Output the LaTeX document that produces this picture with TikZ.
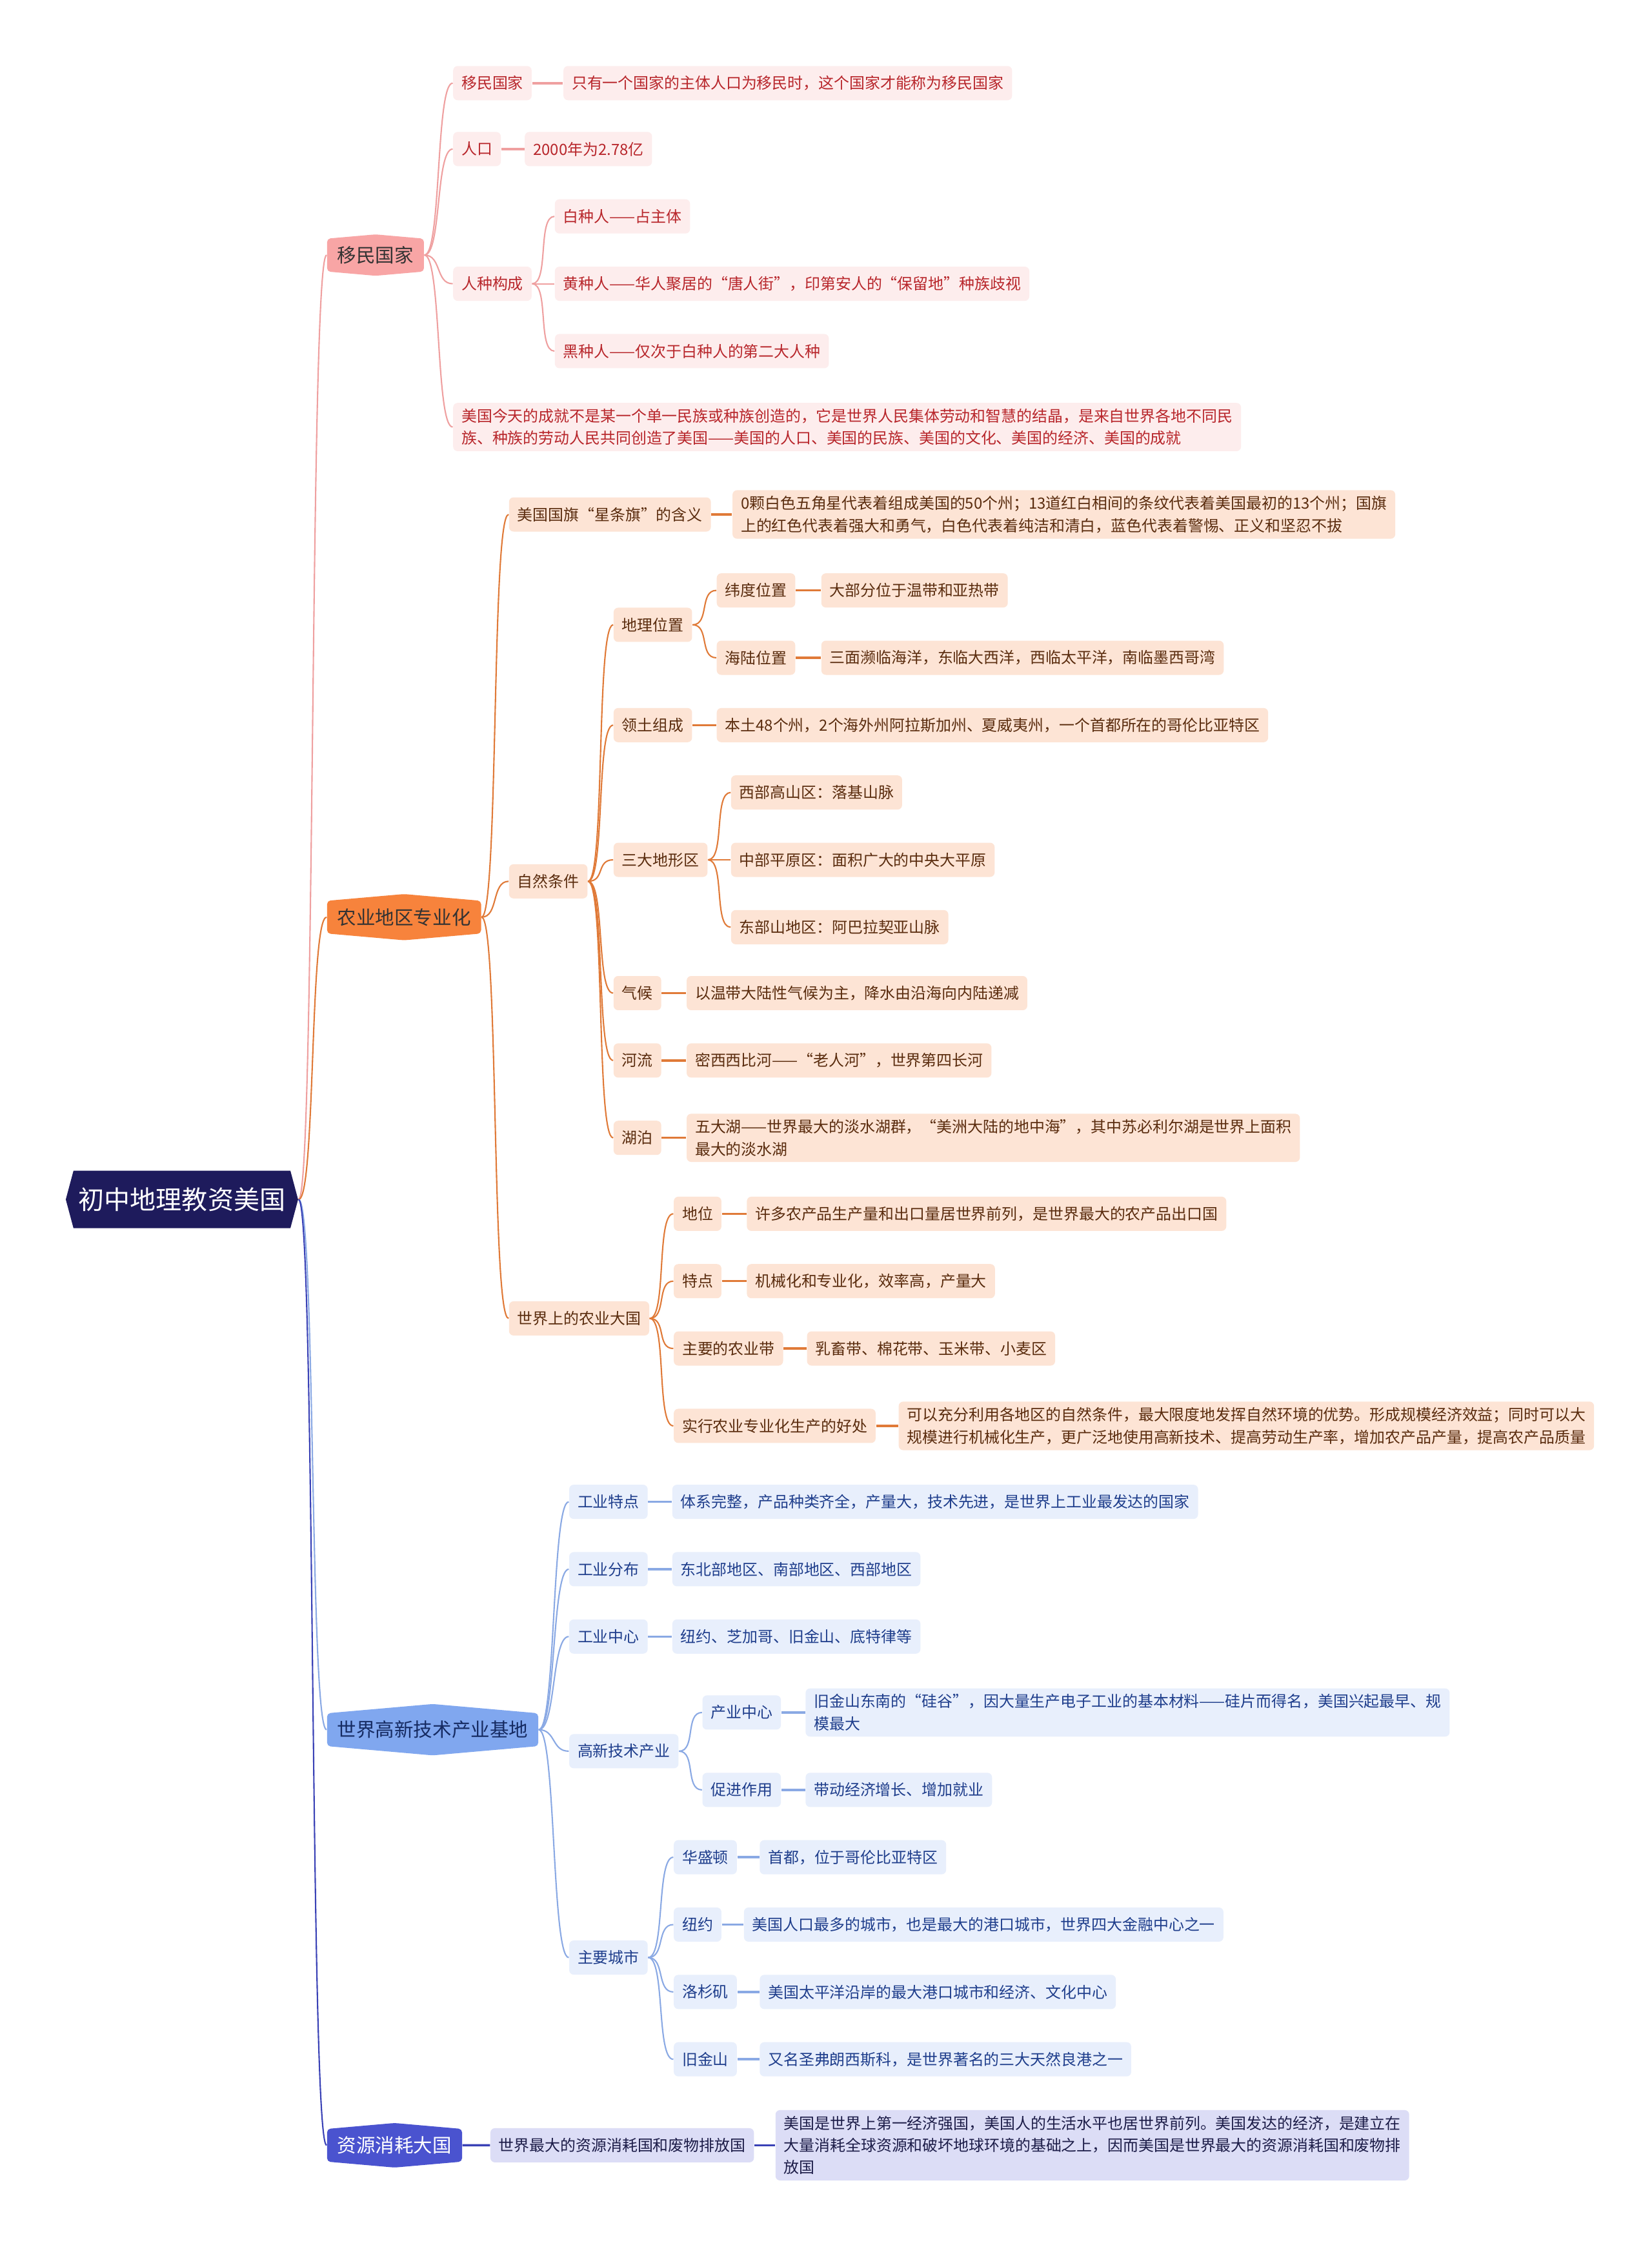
\documentclass[tikz,border=0pt]{standalone}
\usepackage{fontspec}
\setmainfont{Noto Sans CJK SC}
\usetikzlibrary{shapes.symbols}
\definecolor{rootbg}{HTML}{1E1B5C}
\definecolor{pinktop}{HTML}{F8A5A5}
\definecolor{pinkbg}{HTML}{FDEDED}
\definecolor{pinktx}{HTML}{B8262B}
\definecolor{pinkln}{HTML}{EFA0A0}
\definecolor{orangetop}{HTML}{F7833C}
\definecolor{orangebg}{HTML}{FDE4D5}
\definecolor{orangetx}{HTML}{5A2C0E}
\definecolor{orangeln}{HTML}{E07A38}
\definecolor{bluetop}{HTML}{80A7EF}
\definecolor{bluebg}{HTML}{E8EFFC}
\definecolor{bluetx}{HTML}{1F3E8C}
\definecolor{blueln}{HTML}{8AA9E4}
\definecolor{purpletop}{HTML}{4A53CF}
\definecolor{purplebg}{HTML}{DCDDF6}
\definecolor{purpletx}{HTML}{1C1C48}
\definecolor{purpleln}{HTML}{3A42B6}
\begin{document}
\begin{tikzpicture}[x=0.0222cm,y=-0.0222cm,
  rootnode/.style={signal,signal to=east and west,signal pointer angle=150,fill=rootbg,text=white,
    font=\fontsize{11.4}{13}\selectfont,minimum width=3.6cm,minimum height=0.89cm,inner sep=0pt},
  topic/.style={signal,signal to=north and south,signal pointer angle=170,rounded corners=1.5pt,
    minimum height=0.62cm,inner xsep=0.16cm,font=\fontsize{8.4}{10}\selectfont,anchor=west},
  leaf/.style={rounded corners=2pt,minimum height=0.53cm,inner xsep=0.13cm,inner ysep=0.09cm,
    font=\fontsize{6.8}{9.8}\selectfont,anchor=west,align=left},
  pinktopic/.style={topic,fill=pinktop,text=black!80},
  pinkleaf/.style={leaf,fill=pinkbg,text=pinktx},
  orangetopic/.style={topic,fill=orangetop,text=black!80},
  orangeleaf/.style={leaf,fill=orangebg,text=orangetx},
  bluetopic/.style={topic,fill=bluetop,text=bluetx!70!black},
  blueleaf/.style={leaf,fill=bluebg,text=bluetx},
  purpletopic/.style={topic,fill=purpletop,text=white},
  purpleleaf/.style={leaf,fill=purplebg,text=purpletx},
  link/.style={to path={.. controls +(12,0) and +(-12,0) .. (\tikztotarget)}},
  pinkline/.style={draw=pinkln,line width=0.6pt},
  orangeline/.style={draw=orangeln,line width=0.6pt},
  blueline/.style={draw=blueln,line width=0.6pt},
  purpleline/.style={draw=purpleln,line width=0.6pt}]
\useasboundingbox (0,0) rectangle (1153,1568);
\fill[white] (0,0) rectangle (1153,1568);
\node[rootnode] (usa) at (127,837) {初中地理教资美国};

\node[pinktopic] (imm) at (228,178) {移民国家};
\node[pinkleaf] (immname) at (316,58) {移民国家};
\node[pinkleaf] (immdef) at (393,58) {只有一个国家的主体人口为移民时，这个国家才能称为移民国家};
\node[pinkleaf] (pop) at (316,104) {人口};
\node[pinkleaf] (popnum) at (366,104) {2000年为2.78亿};
\node[pinkleaf] (race) at (316,198) {人种构成};
\node[pinkleaf] (white) at (387,151) {白种人——占主体};
\node[pinkleaf] (yellow) at (387,198) {黄种人——华人聚居的“唐人街”，印第安人的“保留地”种族歧视};
\node[pinkleaf] (black) at (387,245) {黑种人——仅次于白种人的第二大人种};
\node[pinkleaf] (succ) at (316,298) {美国今天的成就不是某一个单一民族或种族创造的，它是世界人民集体劳动和智慧的结晶，是来自世界各地不同民\\族、种族的劳动人民共同创造了美国——美国的人口、美国的民族、美国的文化、美国的经济、美国的成就};
\draw[pinkline] (usa.east) to[link] (imm.west);
\draw[pinkline] (imm.east) to[link] (immname.west);
\draw[pinkline] (imm.east) to[link] (pop.west);
\draw[pinkline] (imm.east) to[link] (race.west);
\draw[pinkline] (imm.east) to[link] (succ.west);
\draw[pinkline] (race.east) to[link] (white.west);
\draw[pinkline] (race.east) to[link] (yellow.west);
\draw[pinkline] (race.east) to[link] (black.west);
\draw[pinkline,line width=1pt] (immname) -- (immdef);
\draw[pinkline,line width=1pt] (pop) -- (popnum);

\node[orangetopic] (agr) at (228,640) {农业地区专业化};
\node[orangeleaf] (flag) at (355,359) {美国国旗“星条旗”的含义};
\node[orangeleaf] (flagtext) at (511,359) {0颗白色五角星代表着组成美国的50个州；13道红白相间的条纹代表着美国最初的13个州；国旗\\上的红色代表着强大和勇气，白色代表着纯洁和清白，蓝色代表着警惕、正义和坚忍不拔};
\node[orangeleaf] (nat) at (355,615) {自然条件};
\node[orangeleaf] (loc) at (428,436) {地理位置};
\node[orangeleaf] (lat) at (500,412) {纬度位置};
\node[orangeleaf] (latt) at (573,412) {大部分位于温带和亚热带};
\node[orangeleaf] (sea) at (500,459) {海陆位置};
\node[orangeleaf] (seat) at (573,459) {三面濒临海洋，东临大西洋，西临太平洋，南临墨西哥湾};
\node[orangeleaf] (terr) at (428,506) {领土组成};
\node[orangeleaf] (terrt) at (500,506) {本土48个州，2个海外州阿拉斯加州、夏威夷州，一个首都所在的哥伦比亚特区};
\node[orangeleaf] (land) at (428,600) {三大地形区};
\node[orangeleaf] (west) at (510,553) {西部高山区：落基山脉};
\node[orangeleaf] (mid) at (510,600) {中部平原区：面积广大的中央大平原};
\node[orangeleaf] (east) at (510,647) {东部山地区：阿巴拉契亚山脉};
\node[orangeleaf] (clim) at (428,693) {气候};
\node[orangeleaf] (climt) at (479,693) {以温带大陆性气候为主，降水由沿海向内陆递减};
\node[orangeleaf] (river) at (428,740) {河流};
\node[orangeleaf] (rivert) at (479,740) {密西西比河——“老人河”，世界第四长河};
\node[orangeleaf] (lake) at (428,794) {湖泊};
\node[orangeleaf] (laket) at (479,794) {五大湖——世界最大的淡水湖群，“美洲大陆的地中海”，其中苏必利尔湖是世界上面积\\最大的淡水湖};
\node[orangeleaf] (farm) at (355,920) {世界上的农业大国};
\node[orangeleaf] (rank) at (470,847) {地位};
\node[orangeleaf] (rankt) at (521,847) {许多农产品生产量和出口量居世界前列，是世界最大的农产品出口国};
\node[orangeleaf] (feat) at (470,894) {特点};
\node[orangeleaf] (featt) at (521,894) {机械化和专业化，效率高，产量大};
\node[orangeleaf] (belt) at (470,941) {主要的农业带};
\node[orangeleaf] (beltt) at (563,941) {乳畜带、棉花带、玉米带、小麦区};
\node[orangeleaf] (gain) at (470,995) {实行农业专业化生产的好处};
\node[orangeleaf] (gaint) at (627,995) {可以充分利用各地区的自然条件，最大限度地发挥自然环境的优势。形成规模经济效益；同时可以大\\规模进行机械化生产，更广泛地使用高新技术、提高劳动生产率，增加农产品产量，提高农产品质量};
\draw[orangeline] (usa.east) to[link] (agr.west);
\draw[orangeline] (agr.east) to[link] (flag.west);
\draw[orangeline] (agr.east) to[link] (nat.west);
\draw[orangeline] (agr.east) to[link] (farm.west);
\draw[orangeline] (nat.east) to[link] (loc.west);
\draw[orangeline] (nat.east) to[link] (terr.west);
\draw[orangeline] (nat.east) to[link] (land.west);
\draw[orangeline] (nat.east) to[link] (clim.west);
\draw[orangeline] (nat.east) to[link] (river.west);
\draw[orangeline] (nat.east) to[link] (lake.west);
\draw[orangeline] (loc.east) to[link] (lat.west);
\draw[orangeline] (loc.east) to[link] (sea.west);
\draw[orangeline] (land.east) to[link] (west.west);
\draw[orangeline] (land.east) to[link] (mid.west);
\draw[orangeline] (land.east) to[link] (east.west);
\draw[orangeline] (farm.east) to[link] (rank.west);
\draw[orangeline] (farm.east) to[link] (feat.west);
\draw[orangeline] (farm.east) to[link] (belt.west);
\draw[orangeline] (farm.east) to[link] (gain.west);
\draw[orangeline,line width=1pt] (flag) -- (flagtext);
\draw[orangeline,line width=1pt] (lat) -- (latt);
\draw[orangeline,line width=1pt] (sea) -- (seat);
\draw[orangeline,line width=1pt] (terr) -- (terrt);
\draw[orangeline,line width=1pt] (clim) -- (climt);
\draw[orangeline,line width=1pt] (river) -- (rivert);
\draw[orangeline,line width=1pt] (lake) -- (laket);
\draw[orangeline,line width=1pt] (rank) -- (rankt);
\draw[orangeline,line width=1pt] (feat) -- (featt);
\draw[orangeline,line width=1pt] (belt) -- (beltt);
\draw[orangeline,line width=1pt] (gain) -- (gaint);

\node[bluetopic] (tech) at (228,1207) {世界高新技术产业基地};
\node[blueleaf] (ind) at (397,1048) {工业特点};
\node[blueleaf] (indt) at (469,1048) {体系完整，产品种类齐全，产量大，技术先进，是世界上工业最发达的国家};
\node[blueleaf] (dist) at (397,1095) {工业分布};
\node[blueleaf] (distt) at (469,1095) {东北部地区、南部地区、西部地区};
\node[blueleaf] (cent) at (397,1142) {工业中心};
\node[blueleaf] (centt) at (469,1142) {纽约、芝加哥、旧金山、底特律等};
\node[blueleaf] (hitech) at (397,1222) {高新技术产业};
\node[blueleaf] (hub) at (490,1195) {产业中心};
\node[blueleaf] (hubt) at (562,1195) {旧金山东南的“硅谷”，因大量生产电子工业的基本材料——硅片而得名，美国兴起最早、规\\模最大};
\node[blueleaf] (role) at (490,1249) {促进作用};
\node[blueleaf] (rolet) at (562,1249) {带动经济增长、增加就业};
\node[blueleaf] (city) at (397,1366) {主要城市};
\node[blueleaf] (wash) at (470,1296) {华盛顿};
\node[blueleaf] (washt) at (530,1296) {首都，位于哥伦比亚特区};
\node[blueleaf] (ny) at (470,1343) {纽约};
\node[blueleaf] (nyt) at (519,1343) {美国人口最多的城市，也是最大的港口城市，世界四大金融中心之一};
\node[blueleaf] (la) at (470,1390) {洛杉矶};
\node[blueleaf] (lat2) at (530,1390) {美国太平洋沿岸的最大港口城市和经济、文化中心};
\node[blueleaf] (sf) at (470,1437) {旧金山};
\node[blueleaf] (sft) at (530,1437) {又名圣弗朗西斯科，是世界著名的三大天然良港之一};
\draw[blueline] (usa.east) to[link] (tech.west);
\draw[blueline] (tech.east) to[link] (ind.west);
\draw[blueline] (tech.east) to[link] (dist.west);
\draw[blueline] (tech.east) to[link] (cent.west);
\draw[blueline] (tech.east) to[link] (hitech.west);
\draw[blueline] (tech.east) to[link] (city.west);
\draw[blueline] (hitech.east) to[link] (hub.west);
\draw[blueline] (hitech.east) to[link] (role.west);
\draw[blueline] (city.east) to[link] (wash.west);
\draw[blueline] (city.east) to[link] (ny.west);
\draw[blueline] (city.east) to[link] (la.west);
\draw[blueline] (city.east) to[link] (sf.west);
\draw[blueline,line width=1pt] (ind) -- (indt);
\draw[blueline,line width=1pt] (dist) -- (distt);
\draw[blueline,line width=1pt] (cent) -- (centt);
\draw[blueline,line width=1pt] (hub) -- (hubt);
\draw[blueline,line width=1pt] (role) -- (rolet);
\draw[blueline,line width=1pt] (wash) -- (washt);
\draw[blueline,line width=1pt] (ny) -- (nyt);
\draw[blueline,line width=1pt] (la) -- (lat2);
\draw[blueline,line width=1pt] (sf) -- (sft);

\node[purpletopic] (res) at (228,1497) {资源消耗大国};
\node[purpleleaf] (waste) at (342,1497) {世界最大的资源消耗国和废物排放国};
\node[purpleleaf] (wastet) at (541,1497) {美国是世界上第一经济强国，美国人的生活水平也居世界前列。美国发达的经济，是建立在\\大量消耗全球资源和破坏地球环境的基础之上，因而美国是世界最大的资源消耗国和废物排\\放国};
\draw[purpleline] (usa.east) to[link] (res.west);
\draw[purpleline,line width=1pt] (res) -- (waste);
\draw[purpleline,line width=1pt] (waste) -- (wastet);
\end{tikzpicture}
\end{document}
